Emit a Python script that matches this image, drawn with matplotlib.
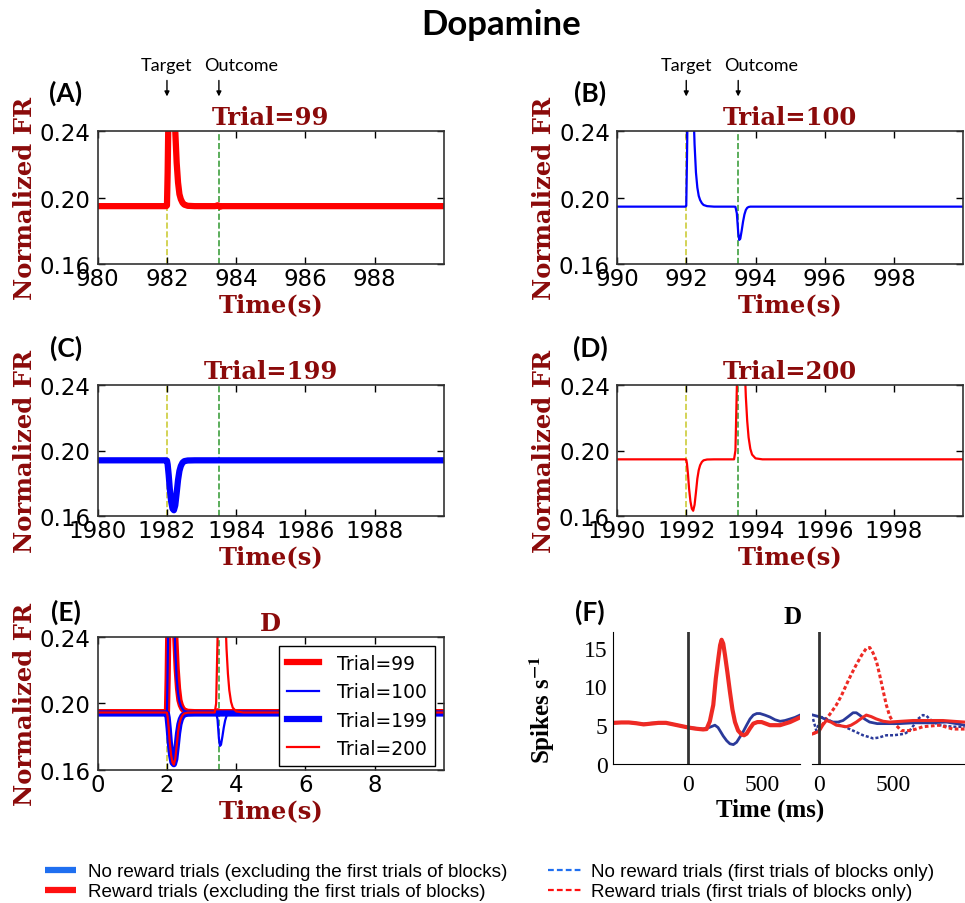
import numpy as np
import matplotlib.pyplot as plt
from matplotlib.lines import Line2D

plt.rcParams['font.family'] = 'DejaVu Sans'
plt.rcParams['mathtext.fontset'] = 'stix'

# ---- model firing rate, seconds from trial start ----
t_trial = [0.0, 1.98, 2.0, 2.02, 2.05, 2.08, 2.12, 2.16, 2.2, 2.24, 2.28, 2.32, 2.36, 2.4,
           2.45, 2.5, 2.6, 2.8, 3.38, 3.42, 3.46, 3.5, 3.53, 3.56, 3.6, 3.64, 3.68, 3.72,
           3.76, 3.8, 3.85, 3.9, 4.0, 4.2, 10.0]

fr_99 = [.1948, .1948, .1952, .215, .262, .292, .308, .300, .272, .240, .221, .209, .202, .1990,
         .1968, .1957, .1950, .1948, .1948, .1949, .1953, .1950, .1944, .1946, .1948, .1948,
         .1948, .1948, .1948, .1948, .1948, .1948, .1948, .1948, .1948]

fr_100 = [.1945, .1945, .1950, .222, .270, .296, .304, .290, .258, .232, .215, .206, .201, .1985,
          .1966, .1955, .1948, .1945, .1945, .1944, .1905, .1790, .1745, .1752, .1800, .1855,
          .1898, .1925, .1938, .1943, .1945, .1945, .1945, .1945, .1945]

fr_199 = [.1940, .1940, .1938, .1915, .1850, .1770, .1690, .1645, .1635, .1665, .1740, .1820,
          .1875, .1905, .1926, .1935, .1939, .1940, .1940, .1940, .1940, .1940, .1940, .1940,
          .1940, .1940, .1940, .1940, .1940, .1940, .1940, .1940, .1940, .1940, .1940]

fr_200 = [.1946, .1946, .1944, .1920, .1855, .1770, .1690, .1645, .1632, .1668, .1745, .1828,
          .1880, .1910, .1930, .1940, .1945, .1946, .1946, .2000, .2380, .2780, .2980, .3060,
          .3040, .2850, .2560, .2330, .2180, .2080, .2010, .1975, .1952, .1946, .1946]

trials = [99, 100, 199, 200]
trial_start = [980, 990, 1980, 1990]
t_target = 2.0
t_outcome = 3.5

# ---- recorded dopamine neuron (ms), cue aligned ----
cue_t_red = [-500, -450, -400, -350, -300, -250, -200, -150, -100, -50, 0, 50, 100, 123, 145,
             168, 185, 202, 214, 224, 235, 247, 263, 280, 297, 314, 335, 359, 375, 392, 415,
             437, 465, 493, 549, 617, 684, 751]
cue_red = [5.3, 5.35, 5.35, 5.25, 5.1, 5.2, 5.3, 5.3, 5.1, 4.9, 4.7, 4.55, 4.45, 4.5, 5.5,
           7.6, 11.0, 13.6, 15.3, 16.0, 15.5, 14.0, 11.8, 9.3, 7.0, 5.4, 4.3, 3.8, 3.7, 3.9, 4.6,
           5.2, 5.4, 5.4, 5.0, 5.0, 5.4, 6.0]
cue_t_blue = [-500, -450, -400, -350, -300, -250, -200, -150, -100, -50, 0, 50, 100, 140, 179,
              200, 213, 235, 258, 280, 303, 325, 348, 370, 392, 415, 437, 460, 482, 515, 549,
              583, 617, 650, 684, 717, 751]
cue_blue = [5.3, 5.35, 5.35, 5.25, 5.15, 5.25, 5.3, 5.3, 5.1, 4.9, 4.7, 4.6, 4.5, 4.7, 5.0,
            4.7, 4.3, 3.6, 3.0, 2.6, 2.5, 2.8, 3.5, 4.2, 5.0, 5.8, 6.3, 6.5, 6.5, 6.3, 6.05,
            5.7, 5.5, 5.6, 5.8, 6.0, 6.3]

# ---- outcome aligned ----
out_t_red = [-40, 0, 25, 49, 80, 116, 150, 183, 215, 250, 285, 317, 350, 384, 430, 473, 550,
             630, 730, 830, 900, 975]
out_red = [3.9, 4.2, 5.0, 5.6, 5.4, 5.0, 4.9, 4.8, 5.0, 5.4, 5.9, 6.3, 6.1, 5.8, 5.5, 5.4, 5.5,
           5.6, 5.6, 5.6, 5.5, 5.4]
out_t_red_first = [-40, 0, 20, 49, 80, 116, 150, 183, 215, 250, 285, 317, 340, 362, 385, 406,
                   430, 451, 473, 496, 551, 607, 650, 696, 750, 808, 897, 975]
out_red_first = [3.9, 4.3, 5.0, 5.8, 6.6, 7.6, 8.8, 10.2, 11.5, 12.8, 14.0, 14.9, 15.0, 14.3,
                 13.2, 11.5, 9.4, 7.6, 6.2, 5.4, 4.3, 4.3, 4.5, 4.8, 4.9, 5.0, 4.5, 4.5]
out_t_blue = [-40, 0, 27, 60, 94, 128, 161, 195, 228, 250, 272, 305, 339, 390, 451, 540, 630,
              740, 853, 920, 975]
out_blue = [6.3, 6.1, 5.9, 5.6, 5.4, 5.4, 5.6, 6.1, 6.6, 6.6, 6.3, 5.8, 5.4, 5.2, 5.2, 5.2, 5.3,
            5.3, 5.4, 5.2, 5.0]
out_t_blue_first = [-40, -18, 0, 16, 40, 71, 105, 138, 170, 205, 250, 295, 330, 362, 400, 451,
                    500, 540, 575, 607, 635, 663, 696, 720, 741, 775, 808, 850, 897, 975]
out_blue_first = [5.8, 4.3, 5.2, 6.05, 5.9, 5.6, 5.3, 5.0, 4.8, 4.5, 4.1, 3.7, 3.5, 3.3, 3.4,
                  3.7, 3.7, 3.8, 3.9, 4.3, 5.0, 5.8, 6.3, 6.2, 5.8, 5.3, 5.0, 4.9, 4.8, 4.8]

W, H = 965, 904
fig = plt.figure(figsize=(W / 100, H / 100), dpi=100)

FR_RED = '#ff0000'
FR_BLUE = '#0000ff'
LABEL_RED = '#8b0a0a'
YELLOW = '#cccc3a'
GREEN = '#3fa03f'
THICK, THIN = 4.5, 1.6
serif_b = dict(family='DejaVu Serif', weight='bold', color=LABEL_RED, fontsize=17.5)


def px_axes(left, top, right, bottom):
    return fig.add_axes([left / W, 1 - bottom / H, (right - left) / W, (bottom - top) / H])


def style_fr_axes(ax, x0, title):
    ax.set_xlim(x0, x0 + 10)
    ax.set_ylim(0.16, 0.24)
    ax.set_xticks(np.arange(x0, x0 + 10, 2))
    ax.set_yticks([0.16, 0.20, 0.24])
    ax.set_yticklabels(['0.16', '0.20', '0.24'])
    ax.tick_params(direction='in', top=True, right=True, length=5, width=1,
                   labelsize=16.5, colors='k')
    ax.tick_params(axis='x', pad=2)
    ax.tick_params(axis='y', pad=5)
    for s in ax.spines.values():
        s.set_color('#333333')
        s.set_linewidth(1.2)
    ax.axvline(x0 + t_target, color=YELLOW, ls='--', lw=1.2, zorder=1)
    ax.axvline(x0 + t_outcome, color=GREEN, ls='--', lw=1.2, zorder=1)
    ax.set_title(title, pad=5, **serif_b)
    ax.set_xlabel('Time(s)', **serif_b)
    ax.set_ylabel('Normalized FR', **serif_b)
    ax.xaxis.set_label_coords(0.5, -0.215)
    ax.yaxis.set_label_coords(-0.175, 0.5)


fr_series = [fr_99, fr_100, fr_199, fr_200]
colors = [FR_RED, FR_BLUE, FR_BLUE, FR_RED]
widths = [THICK, THIN, THICK, THIN]
boxes = [(97.7, 132, 444, 265), (617, 132, 963.3, 265),
         (97.7, 386, 444, 517), (617, 386, 963.3, 517)]

for i in range(4):
    ax = px_axes(*boxes[i])
    x0 = trial_start[i]
    ax.plot(np.array(t_trial) + x0, fr_series[i], color=colors[i], lw=widths[i],
            solid_capstyle='round')
    style_fr_axes(ax, x0, 'Trial=%d' % trials[i])
    if i < 2:
        for tx, name, dx in [(t_target, 'Target', 0.0), (t_outcome, 'Outcome', 0.65)]:
            ax.annotate('', xy=(x0 + tx, 1.26), xycoords=('data', 'axes fraction'),
                        xytext=(x0 + tx, 1.38), textcoords=('data', 'axes fraction'),
                        arrowprops=dict(arrowstyle='-|>', color='k', lw=1,
                                        mutation_scale=7, shrinkA=0, shrinkB=0))
            ax.text(x0 + tx + dx, 1.495, name, transform=ax.get_xaxis_transform(),
                    ha='center', va='center', fontsize=13, family=['Lato', 'DejaVu Sans'])

# overlay of the four trials
axE = px_axes(97.7, 638, 444, 771)
for i in range(4):
    axE.plot(t_trial, fr_series[i], color=colors[i], lw=widths[i],
             label='Trial=%d' % trials[i])
style_fr_axes(axE, 0, 'D')
axE.set_xticks([0, 2, 4, 6, 8])
axE.legend(loc='upper right', fontsize=13.5, handlelength=1.7, handletextpad=1.0,
           labelspacing=0.5, fancybox=False, edgecolor='k', framealpha=1,
           borderaxespad=0.5)

# recorded neuron
tnr = dict(family='Liberation Serif')
F_RED = '#ee2a24'
F_BLUE = '#2b3a9a'
axF1 = px_axes(613, 633, 800, 765)
axF1.plot(cue_t_blue, cue_blue, color=F_BLUE, lw=2)
axF1.plot(cue_t_red, cue_red, color=F_RED, lw=3)
axF1.axvline(0, color='#333333', lw=2)
axF1.set_xlim(-506, 751)
axF1.set_ylim(0, 17)
axF1.set_xticks([0, 500])
axF1.set_yticks([0, 5, 10, 15])
axF1.spines[['top', 'right']].set_visible(False)
axF1.tick_params(length=0, labelsize=17, labelfontfamily='Liberation Serif')
axF1.tick_params(axis='x', pad=7)
axF1.tick_params(axis='y', pad=4)
axF1.set_ylabel(r'Spikes s$^{\mathbf{-1}}$', fontsize=18, weight='bold', **tnr)
axF1.yaxis.set_label_coords(-0.30, 0.42)

axF2 = px_axes(812, 633, 965, 765)
axF2.plot(out_t_blue_first, out_blue_first, color=F_BLUE, lw=1.8, ls=(0, (1.2, 0.8)))
axF2.plot(out_t_red_first, out_red_first, color=F_RED, lw=2.2, ls=(0, (1.2, 0.8)))
axF2.plot(out_t_blue, out_blue, color=F_BLUE, lw=2)
axF2.plot(out_t_red, out_red, color=F_RED, lw=2.2)
axF2.axvline(0, color='#333333', lw=2)
axF2.set_xlim(-47, 978)
axF2.set_ylim(0, 17)
axF2.set_xticks([0, 500])
axF2.set_yticks([])
axF2.spines[['top', 'right', 'left']].set_visible(False)
axF2.tick_params(length=0, labelsize=17, labelfontfamily='Liberation Serif')
axF2.tick_params(axis='x', pad=7)

fig.text(793 / W, 1 - 618 / H, 'D', ha='center', va='center', fontsize=18,
         weight='bold', **tnr)
fig.text(770 / W, 1 - 810 / H, 'Time (ms)', ha='center', va='center', fontsize=18,
         weight='bold', **tnr)

# panel letters and title
for lab, x, y in [('(A)', 66, 93), ('(B)', 590, 93), ('(C)', 66, 348), ('(D)', 590, 348),
                  ('(E)', 66, 612), ('(F)', 590, 612)]:
    fig.text(x / W, 1 - y / H, lab, ha='center', va='center', fontsize=19, weight='bold',
             family=['Lato', 'DejaVu Sans'])
fig.text(501 / W, 1 - 25 / H, 'Dopamine', ha='center', va='center', fontsize=25,
         weight='bold', family=['Lato', 'DejaVu Sans'])

# figure-wide key
LEG_BLUE = '#1f6ff0'
LEG_RED = '#ff1010'
leg_font = dict(family=['Liberation Sans Narrow', 'Liberation Sans', 'DejaVu Sans'],
                size=13.6)
h_left = [Line2D([], [], color=LEG_BLUE, lw=4.5, solid_capstyle='butt'),
          Line2D([], [], color=LEG_RED, lw=4.5, solid_capstyle='butt')]
h_right = [Line2D([], [], color=LEG_BLUE, lw=1.6, ls=(0, (2.6, 1.4))),
           Line2D([], [], color=LEG_RED, lw=1.6, ls=(0, (2.6, 1.4)))]
fig.legend(h_left, ['No reward trials (excluding the first trials of blocks)',
                    'Reward trials (excluding the first trials of blocks)'],
           loc='upper left', bbox_to_anchor=(45 / W, 1 - 864 / H), frameon=False,
           prop=leg_font, handlelength=1.65, handletextpad=0.65, labelspacing=0.15,
           borderpad=0, borderaxespad=0)
fig.legend(h_right, ['No reward trials (first trials of blocks only)',
                     'Reward trials (first trials of blocks only)'],
           loc='upper left', bbox_to_anchor=(548 / W, 1 - 864 / H), frameon=False,
           prop=leg_font, handlelength=1.75, handletextpad=0.55, labelspacing=0.15,
           borderpad=0, borderaxespad=0)

fig.savefig('out.png', dpi=100)
